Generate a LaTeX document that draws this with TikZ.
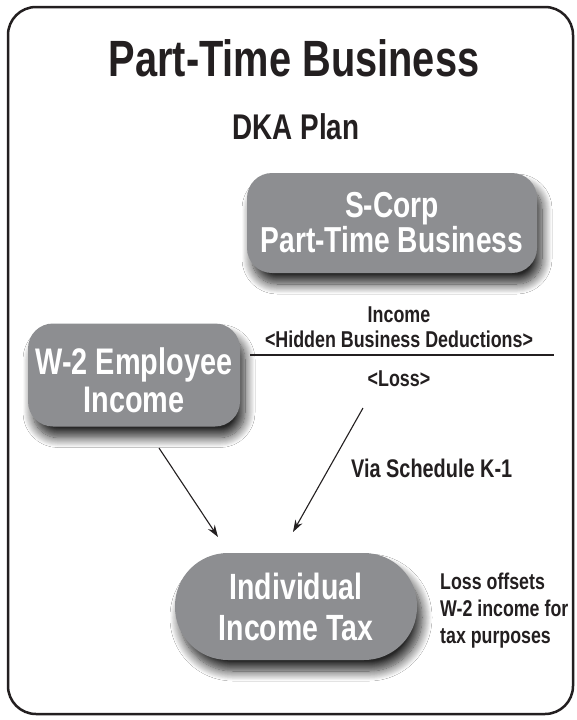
\documentclass[tikz,border=0pt]{standalone}
\usepackage{fontspec}
\setmainfont{Liberation Sans}[FakeStretch=0.78]
\usetikzlibrary{shadows.blur,arrows.meta}
\definecolor{boxgray}{HTML}{8D8E91}
\definecolor{ink}{HTML}{231F20}
\tikzset{
  graybox/.style={fill=boxgray, text=white, align=center, inner sep=0pt,
    blur shadow={shadow xshift=5pt, shadow yshift=-11pt, shadow blur radius=10pt,
      shadow blur steps=14, shadow opacity=85}},
  lbl/.style={text=ink, inner sep=0pt, font=\bfseries\fontsize{22.9}{25}\selectfont},
  flow/.style={draw=ink, line width=1.1pt, -{Stealth[length=12pt,width=8pt]}}
}
\begin{document}
\begin{tikzpicture}[x=1pt,y=-1pt]
\useasboundingbox (0,0) rectangle (577,720);
\fill[white] (0,0) rectangle (577,720);
\draw[ink, line width=2.5pt, rounded corners=28pt] (8,7) rectangle (573,714);

\node[text=ink, anchor=base, inner sep=0pt, font=\bfseries\fontsize{51}{52}\selectfont] (title) at (294,76) {Part-Time Business};
\node[text=ink, anchor=base, inner sep=0pt, font=\bfseries\fontsize{35.7}{36}\selectfont] (plan) at (296,139) {DKA Plan};

\node[graybox, minimum width=290pt, minimum height=100pt, rounded corners=25pt,
  font=\bfseries\fontsize{36.1}{35}\selectfont] (scorp) at (392,223) {S-Corp\\Part-Time Business};
\node[graybox, minimum width=212pt, minimum height=103pt, rounded corners=25pt] (w2) at (134,375) {};
\node[text=white, align=center, inner sep=0pt, font=\bfseries\fontsize{37}{38}\selectfont] (w2t) at ([yshift=-5pt]w2.center) {W-2 Employee\\Income};
\node[graybox, minimum width=242pt, minimum height=107pt, rounded corners=53pt,
  font=\bfseries\fontsize{36.5}{41}\selectfont] (tax) at (296,606.5) {Individual\\Income Tax};

\node[lbl, anchor=base] (inc) at (399,322) {Income};
\node[lbl, anchor=base] (hid) at (399,347) {<Hidden Business Deductions>};
\coordinate (ls) at (250,355);
\coordinate (le) at (554,355);
\draw[ink, line width=2pt] (ls) -- (le);
\node[lbl, anchor=base] (loss) at (399,386) {<Loss>};

\node[lbl, anchor=base west, font=\bfseries\fontsize{25.5}{26}\selectfont] (via) at (351,477) {Via Schedule K-1};

\node[lbl, anchor=north west, align=left, font=\bfseries\fontsize{22.8}{27}\selectfont] (note) at (440,573) {Loss offsets\\W-2 income for\\tax purposes};

\coordinate (a1s) at (159,448);
\coordinate (a1e) at (218,537);
\coordinate (a2s) at (363,408);
\coordinate (a2e) at (293,532);
\draw[flow] (a1s) -- (a1e);
\draw[flow] (a2s) -- (a2e);
\end{tikzpicture}
\end{document}
